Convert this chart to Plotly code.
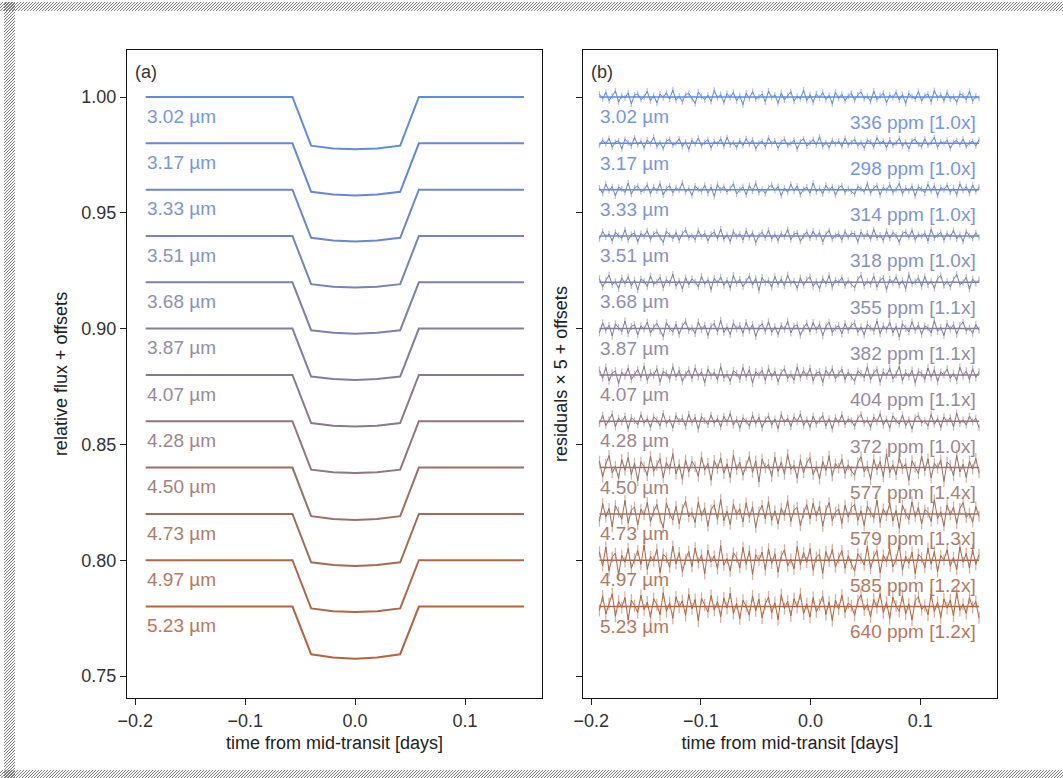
import numpy as np
import plotly.graph_objects as go

# ---------------- data ----------------
wavelengths = ["3.02", "3.17", "3.33", "3.51", "3.68", "3.87", "4.07", "4.28", "4.50", "4.73", "4.97", "5.23"]
offsets = [0.00, 0.02, 0.04, 0.06, 0.08, 0.10, 0.12, 0.14, 0.16, 0.18, 0.20, 0.22]
ppm = [336, 298, 314, 318, 355, 382, 404, 372, 577, 579, 585, 640]
ppm_scale = ["1.0x", "1.0x", "1.0x", "1.0x", "1.1x", "1.1x", "1.1x", "1.0x", "1.4x", "1.3x", "1.2x", "1.2x"]

# transit light-curve key points (time in days, relative flux before offsets)
transit_t = [-0.1905, -0.057, -0.040, -0.020, 0.0, 0.020, 0.041, 0.058, 0.1536]
flux = [
    [1.0, 1.0, 0.9790, 0.9778, 0.9774, 0.9778, 0.9790, 1.0, 1.0],
    [1.0, 1.0, 0.9791, 0.9779, 0.9775, 0.9779, 0.9791, 1.0, 1.0],
    [1.0, 1.0, 0.9792, 0.9780, 0.9776, 0.9780, 0.9792, 1.0, 1.0],
    [1.0, 1.0, 0.9792, 0.9781, 0.9777, 0.9781, 0.9792, 1.0, 1.0],
    [1.0, 1.0, 0.9793, 0.9782, 0.9778, 0.9782, 0.9793, 1.0, 1.0],
    [1.0, 1.0, 0.9793, 0.9782, 0.9778, 0.9782, 0.9793, 1.0, 1.0],
    [1.0, 1.0, 0.9792, 0.9781, 0.9777, 0.9781, 0.9792, 1.0, 1.0],
    [1.0, 1.0, 0.9791, 0.9780, 0.9776, 0.9780, 0.9791, 1.0, 1.0],
    [1.0, 1.0, 0.9790, 0.9778, 0.9774, 0.9778, 0.9790, 1.0, 1.0],
    [1.0, 1.0, 0.9791, 0.9779, 0.9775, 0.9779, 0.9791, 1.0, 1.0],
    [1.0, 1.0, 0.9792, 0.9780, 0.9776, 0.9780, 0.9792, 1.0, 1.0],
    [1.0, 1.0, 0.9794, 0.9780, 0.9775, 0.9780, 0.9794, 1.0, 1.0],
]

# residuals x 5, in units of 1e-4 (read/estimated from the picture)
res_t_start, res_t_end = -0.1925, 0.1536
residuals = [
    [12, -8, 21, -15, 3, 27, -22, 6, -4, 18, -30, 9, 14, -11, 0, 25, -17, 7, -26, 13, -3, 19, -9, 31, -14, 4, -20, 10, 16, -6, -28, 22, 2, -12, 8, -19, 29, -5, 11, -24, 15, -1, 20, -16, 5, -33, 17, -7, 24, -10, 1, 13, -21, 26, -2, 9, -27, 18, -13, 6, 23, -18, 3, -8, 30, -15, 10, -23, 14, -4, 19, -11, 7, -29, 21, -6, 12, -16, 4, 16,
     -14, 9, 22, -7, 3, -19, 26, -11, 5, 17, -25, 8, -2, 20, -13, 11, -28, 15, 1, -9, 24, -17, 6, 13, -21, 28, -4, 10, -15, 19, -8, 2, -23, 14, 7, -12, 25, -18, 4, -6],
    [-9, 14, -3, 22, -17, 6, 11, -24, 18, 2, -12, 25, -6, 9, -19, 15, -1, 27, -14, 4, -22, 10, 17, -8, 0, 20, -15, 7, -26, 13, -4, 23, -11, 5, 16, -20, 8, -2, 19, -13, 26, -7, 3, -18, 12, -10, 21, -5, 15, -23, 1, 9, -16, 24, -3, 11, -21, 6, 18, -9, -1, 14, -25, 8, 20, -12, 2, 17, -7, 28, -15, 5, -19, 13, -4, 10, -14, 22, -8, 3,
     18, -11, 4, -21, 13, 7, -16, 24, -2, 10, -19, 15, -8, 1, 22, -13, 6, -24, 11, 17, -5, -14, 20, -9, 3, 26, -17, 8, -1, 14, -22, 5, 12, -7, 19, -15, 2, 9, -11, 16],
    [7, -16, 24, -5, 13, -27, 10, 3, -12, 29, -20, 8, 15, -9, -1, 21, -18, 12, -6, 26, -23, 4, 17, -14, 9, -3, 30, -11, 6, -25, 16, 1, -8, 19, -15, 11, -29, 22, -2, 14, -10, 5, 25, -19, 0, 12, -22, 18, -7, 27, -13, 3, -17, 9, 20, -4, 14, -26, 7, -11, 23, -6, 16, -21, 2, 11, -15, 28, -9, 5, -18, 19, -3, 13, -24, 8, 17, -12, 4, -7,
     -20, 13, 4, -9, 26, -15, 7, 18, -23, 10, -3, 21, -12, 1, 27, -18, 8, -6, 15, -28, 12, 3, -14, 23, -7, 17, -25, 9, 0, 19, -11, 6, -21, 24, -4, 13, -16, 20, -8, 11],
    [-13, 20, -4, 9, -22, 16, 2, -10, 27, -18, 6, 13, -25, 11, -1, 23, -15, 8, 18, -6, -28, 21, 4, -12, 15, -19, 10, 26, -8, 1, -16, 24, -3, 12, -21, 7, 17, -11, 30, -14, 5, -24, 19, -2, 9, -17, 22, -7, 14, -29, 3, 16, -9, 25, -13, 6, -20, 11, -4, 28, -16, 8, 13, -23, 0, 18, -10, 21, -5, 15, -26, 7, 24, -14, 2, 10, -18, 19, -6, 12,
     9, -25, 17, -3, 12, -14, 28, -8, 4, -19, 21, -11, 15, 2, -27, 10, 18, -6, 24, -16, 7, -1, 13, -22, 29, -9, 3, 16, -18, 11, -5, 25, -13, 6, -24, 19, 1, -10, 14, -7],
    [16, -21, 8, 31, -12, 3, -27, 19, -6, 24, -15, 10, -33, 14, 5, -18, 28, -9, 1, 22, -24, 12, -4, 35, -17, 7, -29, 20, -11, 15, 2, -20, 26, -8, 11, -31, 18, -3, 23, -14, 9, -25, 30, -6, 13, -19, 4, 27, -12, 17, -35, 21, -2, 8, -22, 25, -10, 14, -16, 32, -5, 6, -26, 19, -13, 11, 24, -18, 3, -28, 16, -7, 29, -21, 10, -1, 20, -15, 7, -9,
     -24, 13, 30, -16, 5, -9, 27, -21, 10, 18, -32, 14, -3, 23, -13, 8, -28, 33, -7, 2, 19, -18, 25, -11, 6, -26, 16, 29, -14, 4, -20, 12, 34, -9, -1, 22, -30, 15, -5, 11],
    [-18, 25, -7, 14, -32, 20, 4, -13, 33, -22, 9, 17, -27, 12, -3, 28, -19, 6, 23, -10, -35, 26, 1, -15, 19, -24, 11, 31, -8, 3, -21, 29, -5, 15, -30, 10, 22, -14, 36, -17, 7, -26, 24, -2, 13, -20, 27, -9, 18, -34, 5, 21, -12, 30, -16, 8, -25, 14, -4, 32, -19, 10, 16, -29, 2, 23, -13, 26, -6, 19, -31, 9, 28, -17, 4, 12, -23, 22, -8, 15,
     24, -16, 7, -28, 19, 3, -11, 33, -22, 12, -5, 27, -18, 9, -36, 21, 1, -14, 30, -8, 16, -25, 11, 4, -19, 35, -12, 6, -30, 22, -3, 17, -24, 13, 28, -10, 2, -21, 18, -7],
    [21, -14, 33, -26, 8, 17, -37, 12, -5, 29, -20, 3, 24, -11, 38, -23, 9, -2, 27, -31, 15, 6, -18, 35, -9, 19, -28, 1, 22, -16, 30, -7, 13, -34, 25, -4, 11, -21, 36, -13, 4, -27, 18, 7, -19, 32, -10, 23, -36, 14, -1, 20, -24, 28, -8, 16, -30, 10, 26, -15, 3, -22, 34, -12, 19, -6, 29, -25, 8, 14, -33, 21, -3, 27, -17, 5, 24, -20, 11, -9,
     -27, 16, 5, -12, 35, -21, 9, 24, -31, 13, -4, 28, -17, 2, 37, -25, 10, -8, 20, -34, 15, 6, -19, 30, -10, 22, -29, 12, 1, 26, -15, 7, -24, 33, -5, 17, -20, 27, -11, 14],
    [-10, 26, -19, 7, 31, -24, 13, -3, 22, -33, 16, 2, -15, 28, -8, 11, -27, 19, 5, -20, 34, -12, 9, -29, 24, -1, 14, -22, 30, -6, 17, -35, 20, 3, -14, 27, -9, 12, -25, 21, -4, 33, -17, 8, -30, 15, 1, -21, 26, -11, 18, -28, 6, 23, -16, 10, -32, 29, -5, 13, -23, 19, -2, 31, -18, 7, -26, 22, -13, 4, 25, -20, 11, -34, 16, -7, 28, -14, 9, 2,
     -22, 14, 29, -9, 5, -26, 18, -3, 32, -16, 10, -30, 23, 1, -12, 27, -19, 7, -34, 15, 24, -8, 3, -21, 30, -13, 11, -27, 19, -4, 16, -24, 35, -10, 6, -17, 22, -2, 13, -28],
    [28, -41, 15, 52, -23, 6, -47, 36, -12, 44, -30, 19, -58, 25, 3, -35, 49, -16, 9, 40, -45, 22, -7, 60, -28, 13, -51, 33, -19, 27, 4, -38, 46, -11, 18, -55, 31, -5, 42, -25, 16, -44, 54, -9, 23, -33, 8, 48, -21, 29, -62, 37, -2, 14, -39, 45, -17, 24, -29, 57, -8, 10, -46, 34, -22, 20, 43, -31, 5, -50, 27, -13, 51, -37, 17, -3, 36, -26, 12, -15,
     -33, 21, 47, -18, 7, -52, 35, -9, 26, -40, 59, -22, 12, -31, 44, -5, 17, -56, 30, 2, -27, 50, -14, 38, -45, 19, -3, 33, -60, 24, 9, -36, 53, -19, 14, -43, 28, -7, 40, -24],
    [-32, 45, -14, 24, -56, 36, 7, -23, 58, -40, 16, 30, -48, 21, -5, 50, -34, 11, 41, -18, -61, 47, 2, -27, 33, -43, 19, 55, -13, 6, -37, 52, -9, 26, -53, 18, 39, -24, 63, -30, 12, -46, 42, -3, 22, -35, 48, -16, 31, -59, 9, 37, -21, 53, -28, 14, -44, 25, -7, 57, -33, 17, 28, -51, 4, 40, -22, 46, -10, 34, -54, 15, 49, -29, 8, 21, -41, 38, -14, 27,
     41, -28, 13, -50, 34, 6, -19, 59, -37, 22, -8, 47, -31, 15, -63, 38, 1, -24, 52, -13, 29, -44, 18, 7, -33, 61, -21, 10, -53, 39, -5, 30, -42, 24, 49, -16, 3, -36, 32, -11],
    [36, -25, 57, -46, 14, 30, -64, 21, -8, 51, -35, 5, 42, -19, 66, -40, 16, -4, 47, -54, 26, 10, -31, 61, -16, 33, -49, 2, 38, -28, 53, -12, 23, -59, 44, -7, 19, -37, 63, -22, 7, -47, 32, 12, -33, 56, -18, 40, -62, 24, -1, 35, -42, 49, -14, 28, -52, 17, 45, -26, 5, -38, 59, -20, 33, -10, 50, -44, 14, 25, -57, 37, -5, 47, -30, 9, 42, -35, 19, -16,
     -47, 28, 8, -21, 60, -36, 15, 41, -54, 22, -6, 49, -29, 3, 65, -43, 17, -13, 35, -58, 26, 10, -32, 52, -17, 38, -50, 20, 1, 45, -26, 12, -41, 57, -9, 30, -34, 47, -19, 24],
    [-17, 46, -33, 12, 55, -42, 23, -5, 39, -58, 28, 4, -26, 49, -14, 19, -47, 34, 8, -35, 60, -21, 16, -51, 42, -2, 25, -39, 53, -10, 30, -62, 36, 6, -24, 48, -16, 21, -44, 37, -7, 58, -30, 14, -53, 27, 1, -37, 46, -19, 32, -49, 10, 41, -28, 17, -57, 51, -9, 23, -41, 34, -3, 55, -32, 12, -46, 39, -23, 7, 44, -35, 20, -60, 28, -12, 50, -25, 15, 3,
     -38, 24, 51, -15, 9, -45, 31, -4, 56, -27, 18, -52, 40, 2, -21, 47, -33, 12, -59, 26, 42, -13, 5, -36, 53, -22, 19, -48, 33, -7, 28, -41, 61, -17, 10, -30, 38, -3, 22, -49],
]
# half-length of the residual error bars, units of 1e-4
errbar = [13, 12, 13, 13, 14, 15, 16, 15, 23, 23, 24, 26]

colors = ["#5f8ae6", "#6488de", "#6c87cf", "#7484bd", "#7c82ad", "#837e9d",
          "#8a7a8d", "#92767e", "#9b7166", "#a56c55", "#ad6849", "#b5643e"]
err_colors = ["rgba(95,138,230,0.5)", "rgba(100,136,222,0.5)", "rgba(108,135,207,0.5)",
              "rgba(116,132,189,0.5)", "rgba(124,130,173,0.5)", "rgba(131,126,157,0.5)",
              "rgba(138,122,141,0.5)", "rgba(146,118,126,0.5)", "rgba(155,113,102,0.5)",
              "rgba(165,108,85,0.5)", "rgba(173,104,73,0.5)", "rgba(181,100,62,0.5)"]

# ---------------- figure ----------------
W, H = 1063, 778
ML, MR, MT, MB = 127, 66, 50, 80
FONT = "Liberation Sans, Arial, sans-serif"

fig = go.Figure()

for i, wl in enumerate(wavelengths):
    y = [f - offsets[i] for f in flux[i]]
    fig.add_trace(go.Scatter(x=transit_t, y=y, mode="lines",
                             line=dict(color=colors[i], width=2),
                             xaxis="x", yaxis="y", showlegend=False, hoverinfo="skip"))
    fig.add_annotation(x=-0.1915, y=1.0 - offsets[i] - 0.0083, xref="x", yref="y",
                       text=f"{wl} µm", showarrow=False, xanchor="left", yanchor="middle",
                       font=dict(family=FONT, size=19, color=colors[i]), opacity=0.88)

for i, wl in enumerate(wavelengths):
    r = residuals[i]
    t = np.linspace(res_t_start, res_t_end, len(r))
    base = 1.0 - offsets[i]
    y = [base + v * 1e-4 for v in r]
    fig.add_trace(go.Scatter(x=t, y=y, mode="lines",
                             line=dict(color=colors[i], width=1),
                             error_y=dict(type="constant", value=errbar[i] * 1e-4,
                                          color=err_colors[i], thickness=1.3, width=0),
                             xaxis="x2", yaxis="y2", showlegend=False, hoverinfo="skip"))
    fig.add_trace(go.Scatter(x=[res_t_start, res_t_end], y=[base, base], mode="lines",
                             line=dict(color=colors[i], width=1.5),
                             xaxis="x2", yaxis="y2", showlegend=False, hoverinfo="skip"))
    fig.add_annotation(x=-0.1935, y=base - 0.0085, xref="x2", yref="y2",
                       text=f"{wl} µm", showarrow=False, xanchor="left", yanchor="middle",
                       font=dict(family=FONT, size=19, color=colors[i]), opacity=0.88)
    fig.add_annotation(x=0.1530, y=base - 0.0108, xref="x2", yref="y2",
                       text=f"{ppm[i]} ppm [{ppm_scale[i]}]", showarrow=False,
                       xanchor="right", yanchor="middle",
                       font=dict(family=FONT, size=19, color=colors[i]), opacity=0.88)

fig.add_annotation(x=0.015, y=0.985, xref="x domain", yref="y domain", text="(a)",
                   showarrow=False, xanchor="left", yanchor="top",
                   font=dict(family=FONT, size=18, color="#333333"))
fig.add_annotation(x=0.015, y=0.985, xref="x2 domain", yref="y2 domain", text="(b)",
                   showarrow=False, xanchor="left", yanchor="top",
                   font=dict(family=FONT, size=18, color="#333333"))

xrange = [-0.2075, 0.17]
yrange = [0.7405, 1.0203]
ytick = [0.75, 0.80, 0.85, 0.90, 0.95, 1.00]
xtick = [-0.2, -0.1, 0.0, 0.1]
da = (542 - ML) / (W - ML - MR)
db = (583 - ML) / (W - ML - MR)

common_x = dict(range=xrange, tickvals=xtick, tickformat=".1f", ticks="outside", ticklen=6,
                tickcolor="#222", showline=True, linecolor="#111", linewidth=1.2, mirror=True,
                showgrid=False, zeroline=False,
                tickfont=dict(family=FONT, size=18, color="#333333"),
                title=dict(text="time from mid-transit [days]", standoff=6,
                           font=dict(family=FONT, size=18, color="#222222")))
common_y = dict(range=yrange, tickvals=ytick, tickformat=".2f", ticks="outside", ticklen=6,
                tickcolor="#222", showline=True, linecolor="#111", linewidth=1.2, mirror=True,
                showgrid=False, zeroline=False,
                tickfont=dict(family=FONT, size=18, color="#333333"))

fig.update_layout(
    width=W, height=H,
    margin=dict(l=ML, r=MR, t=MT, b=MB, autoexpand=False),
    paper_bgcolor="white", plot_bgcolor="white",
    xaxis=dict(domain=[0, da], anchor="y", **common_x),
    yaxis=dict(domain=[0, 1], anchor="x",
               title=dict(text="relative flux + offsets", standoff=8,
                          font=dict(family=FONT, size=18, color="#222222")), **common_y),
    xaxis2=dict(domain=[db, 1], anchor="y2", **common_x),
    yaxis2=dict(domain=[0, 1], anchor="x2", showticklabels=False,
                title=dict(text="residuals × 5 + offsets", standoff=3,
                           font=dict(family=FONT, size=18, color="#222222")), **common_y),
)

# ---------------- hatched frame (decoration) ----------------
PW, PH = W - ML - MR, H - MT - MB


def px(x):
    return (x - ML) / PW


def py(y):
    return (H - MB - y) / PH


def hatch(x0, x1, y0, y1, step=3):
    segs = []
    h = y1 - y0
    x = x0 - h
    while x < x1:
        a, b = x, x + h
        ya, yb = y1, y0
        if a < x0:
            ya = y1 - (x0 - a)
            a = x0
        if b > x1:
            yb = y0 + (b - x1)
            b = x1
        segs.append(f"M{px(a):.5f},{py(ya):.5f}L{px(b):.5f},{py(yb):.5f}")
        x += step
    return "".join(segs)


for (x0, x1, y0, y1) in [(0, W, 2, 11), (0, W, 770, 778), (4, 15, 2, 778)]:
    fig.add_shape(type="path", xref="paper", yref="paper", path=hatch(x0, x1, y0, y1),
                  line=dict(color="#7d7d7d", width=1), layer="above")

fig.write_html("out.html", config={"displayModeBar": False},
               post_script="document.body.style.margin='0px';document.body.style.overflow='hidden';")
